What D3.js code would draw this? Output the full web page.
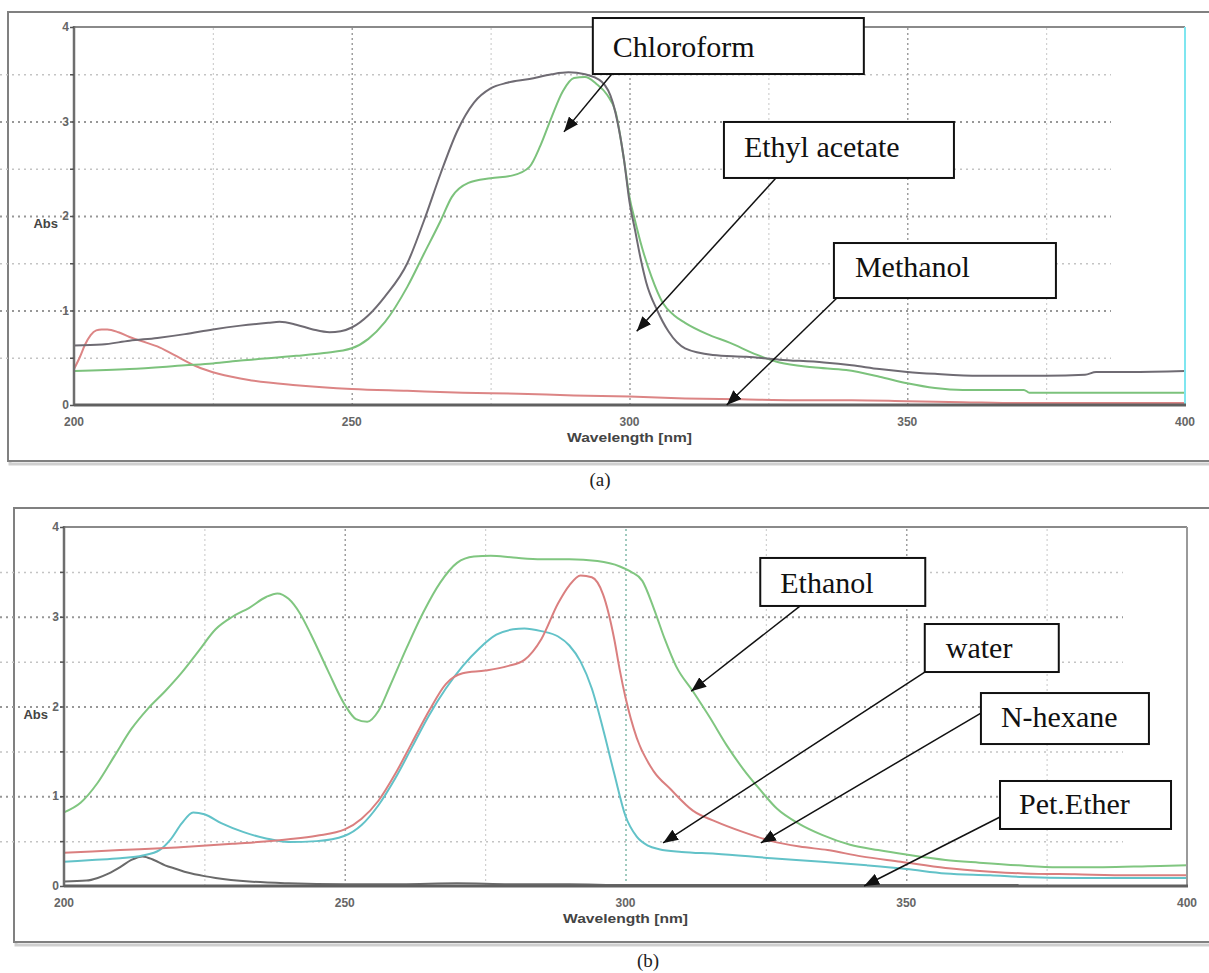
<!doctype html>
<html>
<head>
<meta charset="utf-8">
<title>UV spectra</title>
<script src="https://d3js.org/d3.v7.min.js"></script>
<style>
  body { margin: 0; background: #fff; }
  .tick-lbl { font-family: "Liberation Sans", Arial, sans-serif; font-weight: bold; font-size: 12px; fill: #666; }
  .ax-lbl { font-family: "Liberation Sans", Arial, sans-serif; font-weight: bold; font-size: 13px; fill: #444; }
  .note { font-family: "Liberation Serif", "Times New Roman", serif; font-size: 30px; fill: #111; }
  .cap { font-family: "Liberation Serif", "Times New Roman", serif; font-size: 19px; fill: #222; }
</style>
</head>
<body>
<div id="chart"></div>
<script>
// ---- data ----
// panel (a)
var chloroWl  = [200,205,210,215,220,225,230,235,237,240,243,246,248,250,253,256,260,263,266,269,272,275,278,282,286,289,292,295,297,299,300,301,302,303,305,307,310,315,321,327,335,340,345,350,355,363,370,375,382,384,390,400];
var chloroAbs = [0.63,0.64,0.68,0.71,0.75,0.80,0.84,0.87,0.88,0.85,0.80,0.77,0.78,0.82,0.95,1.15,1.50,1.95,2.45,2.90,3.20,3.35,3.41,3.45,3.50,3.52,3.50,3.42,3.20,2.60,2.15,1.85,1.55,1.30,1.00,0.78,0.60,0.53,0.51,0.48,0.45,0.42,0.38,0.35,0.33,0.31,0.31,0.31,0.32,0.35,0.35,0.36];

var ethylWl  = [200,210,220,225,230,240,245,250,253,256,260,263,266,268,271,275,279,282,284,286,288,290,292,294,296,297.5,299,300,301,302,304,306,308,310,314,318,323,327,333,339,345,350,355,360,365,371,372,380,390,400];
var ethylAbs = [0.36,0.38,0.42,0.44,0.47,0.52,0.55,0.60,0.70,0.88,1.25,1.60,1.95,2.20,2.35,2.40,2.43,2.52,2.75,3.05,3.32,3.46,3.47,3.40,3.28,3.10,2.60,2.20,1.95,1.72,1.35,1.08,0.95,0.87,0.75,0.66,0.53,0.45,0.40,0.37,0.30,0.23,0.18,0.16,0.16,0.16,0.13,0.13,0.13,0.13];

var methWl  = [200,201,202,203,204,205,206,208,210,213,215,218,222,226,232,240,250,260,270,280,290,300,310,320,330,340,350,360,370,380,390,400];
var methAbs = [0.38,0.50,0.64,0.74,0.79,0.80,0.80,0.77,0.72,0.66,0.62,0.53,0.41,0.33,0.26,0.21,0.17,0.15,0.13,0.12,0.10,0.09,0.07,0.06,0.05,0.05,0.04,0.03,0.02,0.02,0.02,0.02];

// panel (b)
var ethanolWl  = [200,203,206,209,212,215,218,221,224,227,230,233,236,238,240,242,244,247,250,252,254,256,258,261,264,267,270,273,276,280,285,290,295,299,301,303,305,307,309,312,315,318,321,324,327,331,335,340,345,350,357,363,370,377,385,393,400];
var ethanolAbs = [0.82,0.93,1.15,1.45,1.75,1.98,2.17,2.38,2.62,2.86,3.00,3.10,3.22,3.26,3.20,3.04,2.80,2.40,2.02,1.86,1.83,1.95,2.22,2.65,3.05,3.38,3.60,3.67,3.68,3.66,3.64,3.64,3.62,3.56,3.50,3.40,3.10,2.75,2.45,2.17,1.88,1.57,1.30,1.07,0.86,0.69,0.57,0.46,0.40,0.35,0.29,0.26,0.23,0.21,0.21,0.22,0.23];

var hexWl  = [200,210,220,230,240,245,250,253,256,259,262,265,268,271,275,279,282,285,288,290,292,294,296,298,299,300,302,305,308,312,316,321,326,331,336,342,349,357,365,371,380,390,400];
var hexAbs = [0.37,0.40,0.43,0.47,0.52,0.56,0.63,0.75,0.95,1.25,1.60,1.95,2.25,2.37,2.40,2.45,2.52,2.75,3.15,3.35,3.46,3.44,3.25,2.75,2.40,2.10,1.65,1.28,1.08,0.84,0.72,0.60,0.50,0.44,0.40,0.33,0.27,0.20,0.16,0.14,0.13,0.12,0.12];

var waterWl  = [200,205,210,214,217,219,221,223,225,228,232,236,240,245,250,253,256,259,262,265,268,271,274,277,280,282,285,288,290,292,294,296,298,300,302,304,306,310,316,326,335,343,350,357,365,371,380,390,400];
var waterAbs = [0.27,0.29,0.31,0.34,0.40,0.52,0.70,0.82,0.80,0.70,0.60,0.53,0.49,0.50,0.56,0.68,0.90,1.20,1.55,1.90,2.20,2.45,2.65,2.80,2.86,2.87,2.84,2.78,2.68,2.50,2.20,1.75,1.25,0.78,0.55,0.45,0.41,0.38,0.36,0.31,0.27,0.23,0.19,0.14,0.12,0.10,0.09,0.09,0.09];

var petWl  = [200,204,206,208,210,212,214,216,218,220,222,225,227,233,240,250,260,270,280,290,300,320,340,360,370];
var petAbs = [0.05,0.06,0.09,0.14,0.21,0.29,0.33,0.29,0.23,0.19,0.15,0.11,0.09,0.05,0.03,0.02,0.02,0.03,0.02,0.02,0.01,0.01,0.01,0.01,0.01];

var xTicks = [200,250,300,350,400];
var yTicks = [0,1,2,3,4];

// annotation labels, arrow tips and box corners in (nm, Abs)
var aNotes   = ["Chloroform","Ethyl acetate","Methanol"];
var aTipWl   = [288.2, 301.3, 317.5];
var aTipAbs  = [2.89, 0.78, 0.0];
var aBoxWl   = [293.4, 317.0, 336.8];
var aBoxAbs  = [4.095, 2.995, 1.714];

var bNotes   = ["Ethanol","water","N-hexane","Pet.Ether"];
var bTipWl   = [311.7, 306.7, 324.1, 342.5];
var bTipAbs  = [2.17, 0.48, 0.48, 0.0];
var bBoxWl   = [324.0, 353.3, 363.3, 366.7];
var bBoxAbs  = [3.655, 2.919, 2.150, 1.170];

// ---- layout ----
var width = 1209, height = 973;
var svg = d3.select("#chart").append("svg")
    .attr("width", width).attr("height", height);

svg.append("defs").append("marker")
    .attr("id", "arrow")
    .attr("markerUnits", "userSpaceOnUse")
    .attr("markerWidth", 16).attr("markerHeight", 12)
    .attr("refX", 15).attr("refY", 6)
    .attr("orient", "auto")
    .append("path").attr("d", "M0,0 L15,6 L0,12 z").attr("fill", "#111");

var panels = [
  {
    frame: [8, 12, 1215, 461], plot: [74, 27, 1185, 405], rightColor: "#7fe6f0",
    caption: "(a)", capX: 600, capY: 486,
    series: [
      {wl: methWl, abs: methAbs, color: "#dc8585"},
      {wl: ethylWl, abs: ethylAbs, color: "#7cc27c"},
      {wl: chloroWl, abs: chloroAbs, color: "#6f6b73"}
    ],
    notes: aNotes, tipWl: aTipWl, tipAbs: aTipAbs, boxWl: aBoxWl, boxAbs: aBoxAbs,
    boxSize: [[271,56],[230,56],[222,55]],
    textOff: [[20,39],[20,35],[21,34]],
    startOff: [[19,56],[52,56],[3,55]]
  },
  {
    frame: [14, 508, 1215, 942], plot: [64, 527, 1187, 886], rightColor: "#9a9a9a",
    caption: "(b)", capX: 648, capY: 967,
    series: [
      {wl: petWl, abs: petAbs, color: "#6a6a6a"},
      {wl: waterWl, abs: waterAbs, color: "#62c2c8"},
      {wl: hexWl, abs: hexAbs, color: "#da7f7f"},
      {wl: ethanolWl, abs: ethanolAbs, color: "#80c680"}
    ],
    notes: bNotes, tipWl: bTipWl, tipAbs: bTipAbs, boxWl: bBoxWl, boxAbs: bBoxAbs,
    boxSize: [[165,48],[134,48],[168,51],[171,48]],
    textOff: [[20,35],[21,34],[20,34],[19,33]],
    startOff: [[40,48],[0,48],[0,20],[0,36]],
    greenCursor: true
  }
];

panels.forEach(function(p) {
  var L = p.plot[0], T = p.plot[1], R = p.plot[2], B = p.plot[3];
  var x = d3.scaleLinear().domain([200, 400]).range([L, R]);
  var y = d3.scaleLinear().domain([0, 4]).range([B, T]);
  var g = svg.append("g");

  // outer frame with a little shadow
  var f = p.frame;
  g.append("rect").attr("x", f[0] + 2).attr("y", f[1] + 3)
    .attr("width", f[2] - f[0]).attr("height", f[3] - f[1])
    .attr("fill", "none").attr("stroke", "#cfcfcf").attr("stroke-width", 3);
  g.append("rect").attr("x", f[0]).attr("y", f[1])
    .attr("width", f[2] - f[0]).attr("height", f[3] - f[1])
    .attr("fill", "#fff").attr("stroke", "#808080").attr("stroke-width", 2);

  // grid
  function grid(axis, vals, color, dash, w) {
    var gg = g.append("g").call(axis.tickValues(vals).tickFormat(""));
    gg.select(".domain").remove();
    gg.selectAll("line").attr("stroke", color).attr("stroke-dasharray", dash).attr("stroke-width", w);
  }
  grid(d3.axisLeft(y).tickSize(-(R - L)), [0.5,1.5,2.5,3.5], "#c4c4c4", "2,4", 1.5);
  grid(d3.axisLeft(y).tickSize(-(R - L)), [1,2,3], "#979797", "2,4", 2);
  var gx = g.append("g").attr("transform", "translate(0," + B + ")");
  gx.call(d3.axisBottom(x).tickValues([225,275,325,375]).tickSize(-(B - T)).tickFormat(""));
  gx.select(".domain").remove();
  gx.selectAll("line").attr("stroke", "#d0d0d0").attr("stroke-dasharray", "2,3").attr("stroke-width", 1.2);
  var gx2 = g.append("g").attr("transform", "translate(0," + B + ")");
  gx2.call(d3.axisBottom(x).tickValues([250,300,350]).tickSize(-(B - T)).tickFormat(""));
  gx2.select(".domain").remove();
  gx2.selectAll("line").attr("stroke", function(d) { return (p.greenCursor && d === 300) ? "#7fb8a8" : "#9e9e9e"; })
    .attr("stroke-dasharray", "2,3").attr("stroke-width", 1.5);

  // curves
  var line = d3.line()
    .x(function(d) { return x(d[0]); })
    .y(function(d) { return y(d[1]); })
    .curve(d3.curveMonotoneX);
  p.series.forEach(function(s) {
    var pts = s.wl.map(function(w, i) { return [w, s.abs[i]]; });
    g.append("path").attr("d", line(pts))
      .attr("fill", "none").attr("stroke", s.color).attr("stroke-width", 2);
  });

  // plot borders
  g.append("line").attr("x1", L).attr("x2", R).attr("y1", T).attr("y2", T)
    .attr("stroke", "#8a8a8a").attr("stroke-width", 2);
  g.append("line").attr("x1", R).attr("x2", R).attr("y1", T).attr("y2", B)
    .attr("stroke", p.rightColor).attr("stroke-width", 2);
  g.append("line").attr("x1", L).attr("x2", L).attr("y1", T - 1).attr("y2", B + 1)
    .attr("stroke", "#6e6e6e").attr("stroke-width", 2.5);
  g.append("line").attr("x1", L).attr("x2", R + 1).attr("y1", B).attr("y2", B)
    .attr("stroke", "#606060").attr("stroke-width", 3);

  // small tick marks
  var yt = g.append("g").attr("transform", "translate(" + L + ",0)")
    .call(d3.axisLeft(y).tickValues(d3.range(0, 4.01, 0.5)).tickSize(4).tickFormat(""));
  yt.select(".domain").remove();
  yt.selectAll("line").attr("stroke", "#555").attr("stroke-width", 1.5);

  // tick labels
  g.selectAll(".ylbl").data(yTicks).enter().append("text")
    .attr("class", "tick-lbl")
    .attr("x", L - 5).attr("y", function(d) { return y(d) + 4; })
    .attr("text-anchor", "end").text(function(d) { return d; });
  g.selectAll(".xlbl").data(xTicks).enter().append("text")
    .attr("class", "tick-lbl")
    .attr("x", function(d) { return x(d); }).attr("y", B + 21)
    .attr("text-anchor", "middle").text(function(d) { return d; });

  g.append("text").attr("class", "ax-lbl")
    .attr("x", L - 16).attr("y", y(2) + 12).attr("text-anchor", "end").text("Abs");
  g.append("text").attr("class", "ax-lbl")
    .attr("x", x(300)).attr("y", B + 37).attr("text-anchor", "middle")
    .attr("textLength", 125).attr("lengthAdjust", "spacingAndGlyphs")
    .text("Wavelength [nm]");

  svg.append("text").attr("class", "cap")
    .attr("x", p.capX).attr("y", p.capY).attr("text-anchor", "middle").text(p.caption);

  // annotation boxes with arrows
  p.notes.forEach(function(n, i) {
    var bx = x(p.boxWl[i]), by = y(p.boxAbs[i]);
    var sz = p.boxSize[i];
    g.append("line")
      .attr("x1", bx + p.startOff[i][0]).attr("y1", by + p.startOff[i][1])
      .attr("x2", x(p.tipWl[i])).attr("y2", y(p.tipAbs[i]))
      .attr("stroke", "#111").attr("stroke-width", 1.5)
      .attr("marker-end", "url(#arrow)");
    g.append("rect").attr("x", bx).attr("y", by)
      .attr("width", sz[0]).attr("height", sz[1])
      .attr("fill", "#fff").attr("stroke", "#111").attr("stroke-width", 2);
    g.append("text").attr("class", "note")
      .attr("x", bx + p.textOff[i][0]).attr("y", by + p.textOff[i][1])
      .text(n);
  });
});
</script>
</body>
</html>
